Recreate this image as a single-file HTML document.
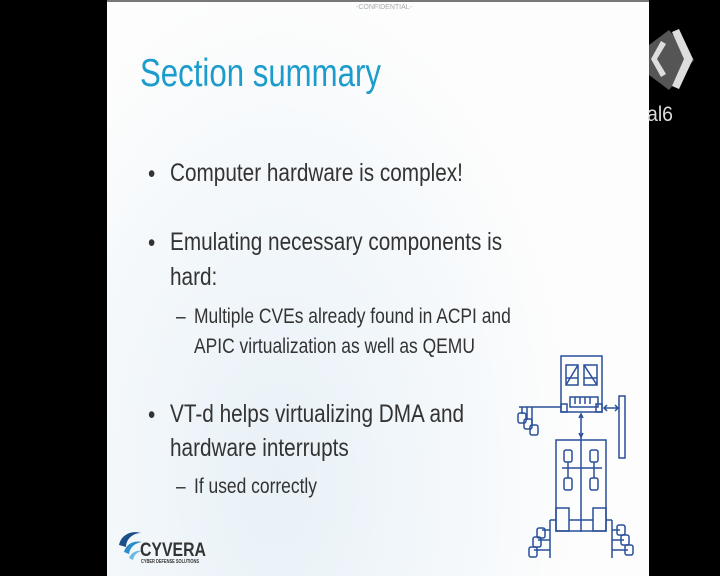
<!DOCTYPE html>
<html><head><style>
body{margin:0;width:720px;height:576px;background:#000;position:relative;overflow:hidden;font-family:"Liberation Sans",sans-serif}
#s{position:absolute;left:107px;top:0;width:542px;height:576px;background:radial-gradient(ellipse 300px 500px at 170px 480px,#e8f1f7 0%,#f4f8fb 60%,#fdfdfd 100%);border-top:2px solid #777;box-sizing:border-box}
.t{position:absolute;white-space:nowrap;transform-origin:0 0;transform:scaleX(0.83);color:#333}
</style></head><body>
<div id="s"></div>
<div class="t" style="left:356px;top:4px;font-size:7px;color:#aaa;transform:none">-CONFIDENTIAL-</div>
<div class="t" style="left:140px;top:52px;font-size:39px;color:#1b9ccc;transform:scaleX(0.8)">Section summary</div>
<div class="t" style="left:148px;top:160px;font-size:25px">•</div>
<div class="t" style="left:170px;top:159px;font-size:25px">Computer hardware is complex!</div>
<div class="t" style="left:148px;top:229px;font-size:25px">•</div>
<div class="t" style="left:170px;top:228px;font-size:25px">Emulating necessary components is</div>
<div class="t" style="left:170px;top:263px;font-size:25px">hard:</div>
<div class="t" style="left:176px;top:305px;font-size:21px">–</div>
<div class="t" style="left:194px;top:305px;font-size:21px">Multiple CVEs already found in ACPI and</div>
<div class="t" style="left:194px;top:335px;font-size:21px">APIC virtualization as well as QEMU</div>
<div class="t" style="left:148px;top:401px;font-size:25px">•</div>
<div class="t" style="left:170px;top:400px;font-size:25px">VT-d helps virtualizing DMA and</div>
<div class="t" style="left:170px;top:434px;font-size:25px">hardware interrupts</div>
<div class="t" style="left:176px;top:475px;font-size:21px">–</div>
<div class="t" style="left:194px;top:475px;font-size:21px">If used correctly</div>
<svg style="position:absolute;left:0;top:0" width="720" height="576">
<g fill="none" stroke="#2a4f9a" stroke-width="1.5">
<rect x="561" y="356" width="41" height="56"/>
<rect x="566" y="365" width="12" height="20"/><line x1="566" y1="385" x2="578" y2="365"/><line x1="566" y1="378" x2="578" y2="378"/>
<rect x="584" y="365" width="13" height="20"/><line x1="584" y1="365" x2="597" y2="385"/><line x1="584" y1="378" x2="597" y2="378"/>
<rect x="570" y="397" width="28" height="10"/><line x1="575" y1="397" x2="575" y2="404"/><line x1="580" y1="397" x2="580" y2="404"/><line x1="585" y1="397" x2="585" y2="404"/><line x1="590" y1="397" x2="590" y2="404"/>
<rect x="561" y="404" width="6" height="8"/><rect x="596" y="404" width="6" height="8"/>
<line x1="519" y1="407" x2="561" y2="407"/>
<line x1="522" y1="407" x2="522" y2="414"/><line x1="527" y1="407" x2="527" y2="420"/><line x1="532" y1="407" x2="532" y2="426"/>
<rect x="518" y="413" width="8" height="10" rx="2"/><rect x="524" y="419" width="8" height="10" rx="2"/><rect x="530" y="425" width="8" height="10" rx="2"/>
<rect x="619" y="396" width="6" height="62"/>
<line x1="604" y1="408" x2="618" y2="408"/><path d="M607 405l-3 3 3 3M615 405l3 3-3 3"/>
<line x1="581" y1="414" x2="581" y2="532"/><path d="M579 418l2-4 2 4M579 433l2 4 2-4"/>
<rect x="556" y="440" width="50" height="91"/>
<rect x="564" y="450" width="8" height="12" rx="2"/><rect x="590" y="450" width="8" height="12" rx="2"/>
<line x1="562" y1="468" x2="602" y2="468"/><line x1="568" y1="462" x2="568" y2="478"/><line x1="594" y1="462" x2="594" y2="478"/>
<rect x="564" y="478" width="8" height="12" rx="2"/><rect x="590" y="478" width="8" height="12" rx="2"/>
<rect x="556" y="508" width="13" height="23"/><rect x="593" y="508" width="13" height="23"/><line x1="569" y1="520" x2="593" y2="520"/>
<line x1="550" y1="520" x2="556" y2="520"/><line x1="550" y1="520" x2="550" y2="558"/>
<line x1="542" y1="530" x2="550" y2="530"/><line x1="538" y1="540" x2="550" y2="540"/><line x1="534" y1="550" x2="550" y2="550"/>
<rect x="537" y="528" width="8" height="10" rx="2"/><rect x="533" y="537" width="8" height="10" rx="2"/><rect x="529" y="547" width="8" height="10" rx="2"/>
<line x1="606" y1="520" x2="612" y2="520"/><line x1="612" y1="520" x2="612" y2="558"/>
<line x1="612" y1="530" x2="620" y2="530"/><line x1="612" y1="540" x2="624" y2="540"/><line x1="612" y1="550" x2="628" y2="550"/>
<rect x="617" y="525" width="8" height="10" rx="2"/><rect x="621" y="535" width="8" height="10" rx="2"/><rect x="625" y="545" width="8" height="10" rx="2"/>
</g>
<path d="M649 45l20-15 25 30-25 30-20-15z" fill="#555"/>
<path d="M679 29l14 30-14 30-7-3 12-27-12-27z M666 44l-9 15 9 15-5 3-10-18 10-18z" fill="#ddd"/>
<text x="647" y="121" font-family="Liberation Sans" font-size="21" fill="#ddd" textLength="26" lengthAdjust="spacingAndGlyphs">al6</text>
<path d="M119 545c2-10 12-15 22-12-8 0-15 6-15 14z" fill="#1c4f8a"/>
<path d="M124 552c2-8 10-12 18-10-7 1-12 5-13 12z" fill="#2a8cc9"/>
<path d="M129 558c2-5 7-8 13-7-5 1-8 4-9 9z" fill="#6bb8e4"/>
<text x="140" y="556" font-family="Liberation Sans" font-size="19" font-weight="bold" fill="#333" textLength="66" lengthAdjust="spacingAndGlyphs">CYVERA</text>
<text x="141" y="563" font-family="Liberation Sans" font-size="5" font-weight="bold" fill="#333" textLength="58" lengthAdjust="spacingAndGlyphs">CYBER DEFENSE SOLUTIONS</text>
</svg>
</body></html>
